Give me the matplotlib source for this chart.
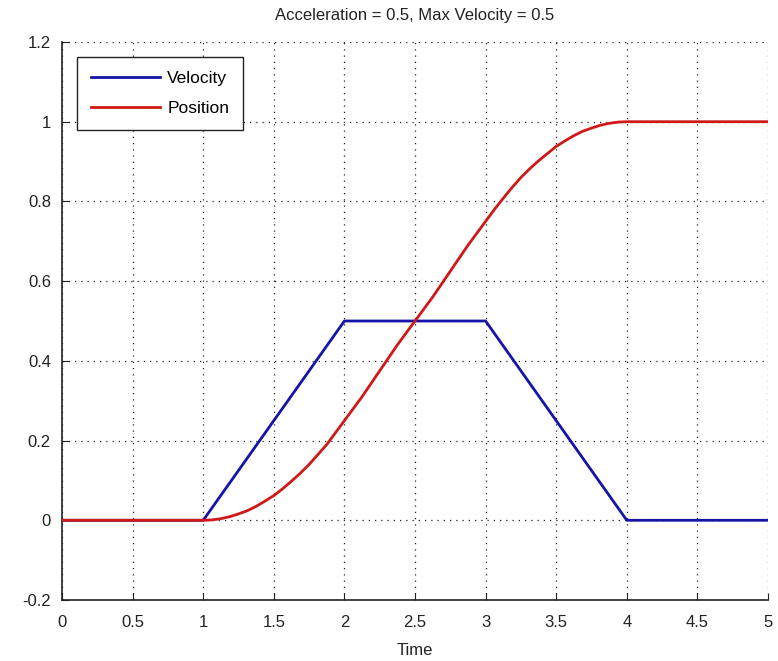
import matplotlib
matplotlib.use("Agg")
import matplotlib.pyplot as plt

title = "Acceleration = 0.5, Max Velocity = 0.5"
xlabel = "Time"

vel_t = [0, 1, 2, 3, 4, 5]
vel_v = [0, 0, 0.5, 0.5, 0, 0]

pos_t = [0, 1, 1.0625, 1.125, 1.1875, 1.25, 1.3125, 1.375, 1.4375, 1.5, 1.5625, 1.625,
         1.6875, 1.75, 1.8125, 1.875, 1.9375, 2, 2.125, 2.25, 2.375, 2.5, 2.625, 2.75,
         2.875, 3, 3.0625, 3.125, 3.1875, 3.25, 3.3125, 3.375, 3.4375, 3.5, 3.5625,
         3.625, 3.6875, 3.75, 3.8125, 3.875, 3.9375, 4, 5]
pos_v = [0, 0, 0.001, 0.004, 0.009, 0.016, 0.024, 0.035, 0.048, 0.062, 0.079, 0.098,
         0.118, 0.14, 0.165, 0.19, 0.22, 0.25, 0.31, 0.375, 0.44, 0.5, 0.56, 0.625,
         0.69, 0.75, 0.78, 0.808, 0.835, 0.86, 0.882, 0.902, 0.92, 0.938, 0.952,
         0.965, 0.976, 0.984, 0.991, 0.996, 0.999, 1, 1]

xticks = [0, 0.5, 1, 1.5, 2, 2.5, 3, 3.5, 4, 4.5, 5]
xticklabels = ["0", "0.5", "1", "1.5", "2", "2.5", "3", "3.5", "4", "4.5", "5"]
yticks = [-0.2, 0, 0.2, 0.4, 0.6, 0.8, 1, 1.2]
yticklabels = ["-0.2", "0", "0.2", "0.4", "0.6", "0.8", "1", "1.2"]

plt.rcParams['font.family'] = ['Liberation Sans', 'DejaVu Sans']

fig = plt.figure(figsize=(7.78, 6.61), dpi=100)
ax = fig.add_axes([62/778, 61/661, 706/778, 558/661])

ax.plot(vel_t, vel_v, color='#1414a8', lw=2, label='Velocity', zorder=3)
ax.plot(pos_t, pos_v, color='#d01818', lw=2, label='Position', zorder=3)

ax.set_xlim(0, 5)
ax.set_ylim(-0.2, 1.2)
ax.set_xticks(xticks)
ax.set_xticklabels(xticklabels)
ax.set_yticks(yticks)
ax.set_yticklabels(yticklabels)
ax.tick_params(direction='in', length=5, labelsize=12, colors='#222222')
ax.tick_params(axis='x', pad=11)
ax.tick_params(axis='y', pad=8)
ax.grid(True, linestyle=(0, (1, 4)), color='#222222', linewidth=0.9)
ax.spines['top'].set_visible(False)
ax.spines['right'].set_visible(False)
for s in ['left', 'bottom']:
    ax.spines[s].set_color('#222222')
    ax.spines[s].set_linewidth(1.2)

ax.set_title(title, fontsize=12, color='#222222', pad=16)
ax.set_xlabel(xlabel, fontsize=12, color='#222222', labelpad=9)

leg = ax.legend(loc='upper left', bbox_to_anchor=(15/706, 1 - 15/558), borderaxespad=0,
                fontsize=12.5, fancybox=False, edgecolor='#222222', framealpha=1,
                borderpad=0.8, handlelength=4.0, handletextpad=0.4, labelspacing=0.85)
leg.get_frame().set_linewidth(1.0)

fig.savefig("out.png", dpi=100)
